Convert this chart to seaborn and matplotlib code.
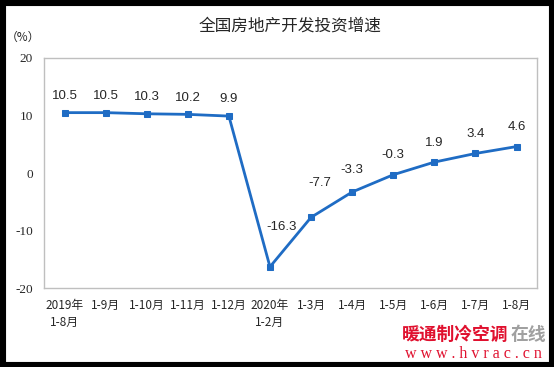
import numpy as np
import pandas as pd
import matplotlib.pyplot as plt
import seaborn as sns
from matplotlib.patches import Rectangle

months = ["2019年\n1-8月", "1-9月", "1-10月", "1-11月", "1-12月", "2020年\n1-2月",
          "1-3月", "1-4月", "1-5月", "1-6月", "1-7月", "1-8月"]
growth = [10.5, 10.5, 10.3, 10.2, 9.9, -16.3, -7.7, -3.3, -0.3, 1.9, 3.4, 4.6]
yticks = [-20, -10, 0, 10, 20]

df = pd.DataFrame({"pos": range(len(months)), "growth": growth})

sns.set_style("white")
plt.rcParams['font.family'] = ['Noto Sans CJK SC', 'DejaVu Sans']

fig = plt.figure(figsize=(5.54, 3.67), dpi=100)
ax = fig.add_axes([0.0794, 0.215, 0.890, 0.627])

blue = "#1F6CC4"
sns.lineplot(data=df, x="pos", y="growth", ax=ax, color=blue, linewidth=2,
             marker="s", markersize=5, markeredgecolor=blue)

# data labels (offsets in points)
for i, v in enumerate(growth):
    dx, dy = 0, 12
    if v == -16.3:
        dx, dy = 8, 29
    elif v == -7.7:
        dx, dy = 6, 25
    elif v == -3.3:
        dy = 16
    elif i >= 8:
        dy = 14
    ax.annotate(f"{v}", (i, v), xytext=(dx, dy), textcoords="offset points",
                ha="center", va="center", fontsize=9.5, family="Liberation Sans")

ax.set_xlim(-0.5, len(months) - 0.5)
ax.set_ylim(-20, 20)
ax.set_yticks(yticks)
ax.set_yticklabels([str(t) for t in yticks], family="Liberation Serif", fontsize=9.5)
ax.set_xticks(range(len(months)))
ax.set_xticklabels(months, fontsize=8.5, linespacing=1.4)
ax.set_xticks(np.arange(0.5, len(months) - 1, 1), minor=True)
ax.tick_params(axis="x", which="major", length=0, pad=8)
ax.tick_params(axis="x", which="minor", direction="in", length=4, color="#BFBFBF", width=1)
ax.tick_params(axis="y", direction="in", length=4, color="#BFBFBF", width=1, pad=8)
ax.set_xlabel("")
ax.set_ylabel("")
for s in ax.spines.values():
    s.set_color("#BFBFBF")
    s.set_linewidth(1)

fig.text(0.524, 0.929, "全国房地产开发投资增速", ha="center", va="center", fontsize=12)
fig.text(0.042, 0.899, "（%）", ha="center", va="center", fontsize=8.5)

# watermark
fig.text(0.7256, 0.087, "暖通制冷空调", color="#E0102E", fontsize=12.8, fontweight="bold",
         ha="left", va="center")
fig.text(0.922, 0.087, "在线", color="#A0A0A0", fontsize=12.8, fontweight="bold",
         ha="left", va="center")
fig.text(0.978, 0.035, "w w w . h v r a c . c n", color="#E0102E", fontsize=11.5,
         family="Liberation Serif", ha="right", va="center")

# black frame around the picture
fig.patches.append(Rectangle((0, 0), 1, 1, transform=fig.transFigure, fill=False,
                             edgecolor="black", linewidth=8, zorder=10))

fig.savefig("out.png", dpi=100)
